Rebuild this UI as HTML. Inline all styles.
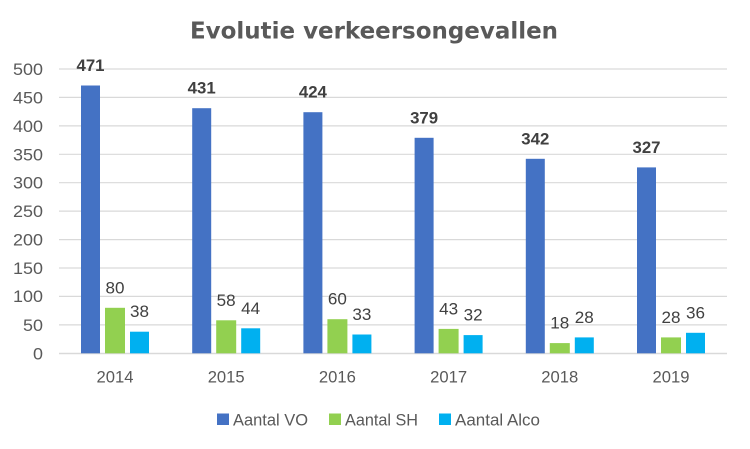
<!DOCTYPE html>
<html><head><meta charset="utf-8"><style>
html,body{margin:0;padding:0;background:#fff;}
svg{display:block;}
text{font-family:"Liberation Sans",sans-serif;}
</style></head><body>
<svg width="750" height="449" viewBox="0 0 750 449" xmlns="http://www.w3.org/2000/svg">
<rect width="750" height="449" fill="#fff"/>
<text x="374" y="38.5" text-anchor="middle" style="font-family:'DejaVu Sans',sans-serif;font-weight:bold" font-size="23" fill="#595959" textLength="368" lengthAdjust="spacingAndGlyphs">Evolutie verkeersongevallen</text>
<g stroke="#D9D9D9" stroke-width="1.2">
<line x1="59" x2="727" y1="69" y2="69"/>
<line x1="59" x2="727" y1="97.4" y2="97.4"/>
<line x1="59" x2="727" y1="125.9" y2="125.9"/>
<line x1="59" x2="727" y1="154.3" y2="154.3"/>
<line x1="59" x2="727" y1="182.7" y2="182.7"/>
<line x1="59" x2="727" y1="211.1" y2="211.1"/>
<line x1="59" x2="727" y1="239.6" y2="239.6"/>
<line x1="59" x2="727" y1="268" y2="268"/>
<line x1="59" x2="727" y1="296.4" y2="296.4"/>
<line x1="59" x2="727" y1="324.9" y2="324.9"/>
<line x1="59" x2="727" y1="353.5" y2="353.5" stroke-width="1.6"/>
</g>
<g font-size="17" fill="#595959" text-anchor="end">
<text x="43" y="75" textLength="30" lengthAdjust="spacingAndGlyphs">500</text>
<text x="43" y="103.4" textLength="30" lengthAdjust="spacingAndGlyphs">450</text>
<text x="43" y="131.9" textLength="30" lengthAdjust="spacingAndGlyphs">400</text>
<text x="43" y="160.3" textLength="30" lengthAdjust="spacingAndGlyphs">350</text>
<text x="43" y="188.7" textLength="30" lengthAdjust="spacingAndGlyphs">300</text>
<text x="43" y="217.1" textLength="30" lengthAdjust="spacingAndGlyphs">250</text>
<text x="43" y="245.6" textLength="30" lengthAdjust="spacingAndGlyphs">200</text>
<text x="43" y="274" textLength="30" lengthAdjust="spacingAndGlyphs">150</text>
<text x="43" y="302.2" textLength="30" lengthAdjust="spacingAndGlyphs">100</text>
<text x="43" y="330.9" textLength="20" lengthAdjust="spacingAndGlyphs">50</text>
<text x="43" y="359.3" textLength="10" lengthAdjust="spacingAndGlyphs">0</text>
</g>
<!-- bars -->
<g fill="#4472C4">
<rect x="81" y="85.5" width="19" height="267.8"/>
<rect x="192.2" y="108.2" width="19" height="245.1"/>
<rect x="303.4" y="112.2" width="19" height="241.1"/>
<rect x="414.6" y="137.8" width="19" height="215.5"/>
<rect x="525.8" y="158.8" width="19" height="194.5"/>
<rect x="637" y="167.4" width="19" height="185.9"/>
</g>
<g fill="#92D050">
<rect x="105" y="307.8" width="20" height="45.5"/>
<rect x="216.2" y="320.3" width="20" height="33"/>
<rect x="327.4" y="319.2" width="20" height="34.1"/>
<rect x="438.6" y="328.9" width="20" height="24.4"/>
<rect x="549.8" y="343.1" width="20" height="10.2"/>
<rect x="661" y="337.4" width="20" height="15.9"/>
</g>
<g fill="#00B0F0">
<rect x="130" y="331.7" width="19" height="21.6"/>
<rect x="241.2" y="328.3" width="19" height="25"/>
<rect x="352.4" y="334.5" width="19" height="18.8"/>
<rect x="463.6" y="335.1" width="19" height="18.2"/>
<rect x="574.8" y="337.4" width="19" height="15.9"/>
<rect x="686" y="332.8" width="19" height="20.5"/>
</g>
<!-- bold labels -->
<g font-size="16.5" font-weight="bold" fill="#404040" text-anchor="middle">
<text x="90.5" y="71" textLength="28" lengthAdjust="spacingAndGlyphs">471</text>
<text x="201.7" y="93.7" textLength="28" lengthAdjust="spacingAndGlyphs">431</text>
<text x="312.9" y="97.7" textLength="28" lengthAdjust="spacingAndGlyphs">424</text>
<text x="424.1" y="123.3" textLength="28" lengthAdjust="spacingAndGlyphs">379</text>
<text x="535.3" y="144.3" textLength="28" lengthAdjust="spacingAndGlyphs">342</text>
<text x="646.5" y="152.9" textLength="28" lengthAdjust="spacingAndGlyphs">327</text>
</g>
<g font-size="17" fill="#404040" text-anchor="middle">
<text x="115" y="293.3" textLength="19" lengthAdjust="spacingAndGlyphs">80</text>
<text x="139.5" y="317.2" textLength="19" lengthAdjust="spacingAndGlyphs">38</text>
<text x="226.2" y="305.8" textLength="19" lengthAdjust="spacingAndGlyphs">58</text>
<text x="250.7" y="313.8" textLength="19" lengthAdjust="spacingAndGlyphs">44</text>
<text x="337.4" y="304.7" textLength="19" lengthAdjust="spacingAndGlyphs">60</text>
<text x="361.9" y="320" textLength="19" lengthAdjust="spacingAndGlyphs">33</text>
<text x="448.6" y="314.4" textLength="19" lengthAdjust="spacingAndGlyphs">43</text>
<text x="473.1" y="320.6" textLength="19" lengthAdjust="spacingAndGlyphs">32</text>
<text x="559.8" y="328.6" textLength="19" lengthAdjust="spacingAndGlyphs">18</text>
<text x="584.3" y="322.9" textLength="19" lengthAdjust="spacingAndGlyphs">28</text>
<text x="671" y="322.9" textLength="19" lengthAdjust="spacingAndGlyphs">28</text>
<text x="695.5" y="318.3" textLength="19" lengthAdjust="spacingAndGlyphs">36</text>
</g>
<g font-size="17" fill="#595959" text-anchor="middle">
<text x="115" y="382.7" textLength="37" lengthAdjust="spacingAndGlyphs">2014</text>
<text x="226.2" y="382.7" textLength="37" lengthAdjust="spacingAndGlyphs">2015</text>
<text x="337.4" y="382.7" textLength="37" lengthAdjust="spacingAndGlyphs">2016</text>
<text x="448.6" y="382.7" textLength="37" lengthAdjust="spacingAndGlyphs">2017</text>
<text x="559.8" y="382.7" textLength="37" lengthAdjust="spacingAndGlyphs">2018</text>
<text x="671" y="382.7" textLength="37" lengthAdjust="spacingAndGlyphs">2019</text>
</g>
<!-- legend -->
<rect x="217" y="413.5" width="12" height="11.5" fill="#4472C4"/>
<rect x="329" y="413.5" width="12" height="11.5" fill="#92D050"/>
<rect x="439" y="413.5" width="12" height="11.5" fill="#00B0F0"/>
<g font-size="17" fill="#595959">
<text x="233" y="425.3" textLength="75" lengthAdjust="spacingAndGlyphs">Aantal VO</text>
<text x="345" y="425.3" textLength="73" lengthAdjust="spacingAndGlyphs">Aantal SH</text>
<text x="455" y="425.3" textLength="85" lengthAdjust="spacingAndGlyphs">Aantal Alco</text>
</g>
</svg>
</body></html>
